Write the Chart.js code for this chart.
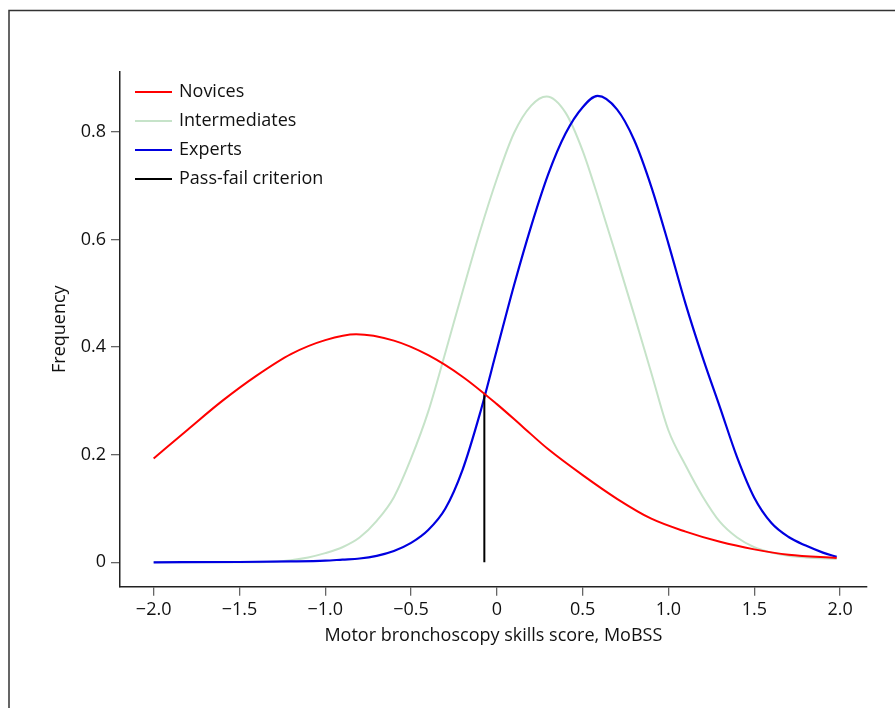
<!DOCTYPE html>
<html>
<head>
<meta charset="utf-8">
<script src="https://cdn.jsdelivr.net/npm/chart.js@4.4.1/dist/chart.umd.min.js"></script>
<style>
  html, body { margin: 0; padding: 0; background: #fff; }
  #wrap { width: 895px; height: 708px; }
</style>
</head>
<body>
<div id="wrap"><canvas id="myChart" width="895" height="708"></canvas></div>
<script>
// valeurs
const novX = [-2.0, -1.8, -1.6, -1.4, -1.2, -1.0, -0.82, -0.6, -0.4, -0.2, 0.0, 0.15, 0.3, 0.5, 0.7, 0.9, 1.1, 1.3, 1.5, 1.7, 1.98];
const novY = [0.193, 0.247, 0.300, 0.347, 0.387, 0.413, 0.424, 0.412, 0.385, 0.345, 0.294, 0.252, 0.21, 0.162, 0.118, 0.081, 0.057, 0.038, 0.024, 0.014, 0.008];

const intX = [-2.0, -1.5, -1.3, -1.2, -1.1, -1.0, -0.9, -0.8, -0.7, -0.6, -0.5, -0.4, -0.3, -0.2, -0.1, 0.0, 0.1, 0.2, 0.29, 0.4, 0.5, 0.6, 0.7, 0.8, 0.9, 1.0, 1.1, 1.2, 1.3, 1.4, 1.5, 1.6, 1.7, 1.8, 1.98];
const intY = [0, 0, 0.001, 0.004, 0.009, 0.017, 0.028, 0.046, 0.077, 0.121, 0.193, 0.28, 0.39, 0.503, 0.613, 0.713, 0.798, 0.849, 0.866, 0.836, 0.765, 0.668, 0.565, 0.46, 0.352, 0.245, 0.18, 0.122, 0.075, 0.046, 0.028, 0.018, 0.012, 0.009, 0.006];

const expX = [-2.0, -1.5, -1.2, -1.0, -0.9, -0.8, -0.7, -0.6, -0.5, -0.4, -0.3, -0.2, -0.1, 0.0, 0.1, 0.2, 0.3, 0.4, 0.5, 0.587, 0.7, 0.8, 0.9, 1.0, 1.1, 1.2, 1.3, 1.4, 1.5, 1.6, 1.7, 1.8, 1.9, 1.98];
const expY = [0, 0.0005, 0.0015, 0.003, 0.005, 0.007, 0.012, 0.021, 0.036, 0.06, 0.1, 0.172, 0.275, 0.395, 0.515, 0.625, 0.722, 0.797, 0.846, 0.867, 0.842, 0.785, 0.698, 0.592, 0.48, 0.38, 0.288, 0.195, 0.12, 0.073, 0.047, 0.031, 0.018, 0.010];

const cutX = [-0.073, -0.073];
const cutY = [0, 0.315];

const xTicks = [-2.0, -1.5, -1.0, -0.5, 0, 0.5, 1.0, 1.5, 2.0];
const yTicks = [0, 0.2, 0.4, 0.6, 0.8];

const seriesNames = ['Novices', 'Intermediates', 'Experts', 'Pass-fail criterion'];
const seriesColors = ['#ff0000', '#c6e3c9', '#0000e0', '#000000'];

function pts(xs, ys) {
    return xs.map(function (x, i) { return { x: x, y: ys[i] }; });
}

function fmt(v) {
    if (v === 0) return '0';
    return v.toFixed(1).replace('-', '\u2212');
}

const FONT = "'Open Sans', 'Noto Sans', sans-serif";

// cadre + légende dessinés à la main
const framePlugin = {
    id: 'frame',
    beforeDraw: function (chart) {
        const c = chart.ctx;
        c.save();
        c.fillStyle = '#fff';
        c.fillRect(0, 0, chart.width, chart.height);
        c.strokeStyle = '#333';
        c.lineWidth = 1.5;
        c.strokeRect(9, 10.5, 1000, 1000);
        c.restore();
    },
    afterDraw: function (chart) {
        const c = chart.ctx;
        c.save();
        c.font = '18px ' + FONT;
        c.textBaseline = 'middle';
        c.fillStyle = '#111';
        chart.data.datasets.forEach(function (ds, i) {
            const y = 92 + i * 29;
            c.strokeStyle = ds.borderColor;
            c.lineWidth = 1.8;
            c.beginPath();
            c.moveTo(135, y);
            c.lineTo(172, y);
            c.stroke();
            c.fillText(ds.label, 179, y);
        });
        c.restore();
    }
};

const ctx = document.getElementById('myChart').getContext('2d');
const myChart = new Chart(ctx, {
    type: 'line',
    data: {
        datasets: [
            { label: seriesNames[0], data: pts(novX, novY), borderColor: seriesColors[0], borderWidth: 2, order: 0 },
            { label: seriesNames[1], data: pts(intX, intY), borderColor: seriesColors[1], borderWidth: 2, order: 3 },
            { label: seriesNames[2], data: pts(expX, expY), borderColor: seriesColors[2], borderWidth: 2.2, order: 2 },
            { label: seriesNames[3], data: pts(cutX, cutY), borderColor: seriesColors[3], borderWidth: 2, order: 1, tension: 0 }
        ]
    },
    options: {
        responsive: false,
        animation: false,
        layout: { padding: { left: 0, top: 71.7, right: 28.3, bottom: 0 } },
        elements: {
            point: { radius: 0 },
            line: { cubicInterpolationMode: 'monotone', fill: false }
        },
        plugins: {
            legend: { display: false },
            tooltip: { enabled: false }
        },
        scales: {
            x: {
                type: 'linear',
                min: -2.196,
                max: 2.155,
                afterBuildTicks: function (scale) {
                    scale.ticks = xTicks.map(function (v) { return { value: v }; });
                },
                afterFit: function (scale) { scale.height = 121.3; },
                grid: { drawOnChartArea: false, drawTicks: true, tickLength: 9, color: '#666', lineWidth: 1.3 },
                border: { display: true, color: '#222', width: 1.5 },
                ticks: {
                    padding: 3,
                    maxRotation: 0,
                    autoSkip: false,
                    color: '#111',
                    font: { family: FONT, size: 18 },
                    callback: function (v) { return fmt(v); }
                },
                title: {
                    display: true,
                    text: 'Motor bronchoscopy skills score, MoBSS',
                    color: '#111',
                    font: { family: FONT, size: 18 },
                    padding: { top: 0, bottom: 61 }
                }
            },
            y: {
                type: 'linear',
                min: -0.0454,
                max: 0.912,
                afterBuildTicks: function (scale) {
                    scale.ticks = yTicks.map(function (v) { return { value: v }; });
                },
                afterFit: function (scale) { scale.width = 120; },
                grid: { drawOnChartArea: false, drawTicks: true, tickLength: 9, color: '#666', lineWidth: 1.3 },
                border: { display: true, color: '#222', width: 1.5 },
                ticks: {
                    padding: 5,
                    autoSkip: false,
                    color: '#111',
                    font: { family: FONT, size: 18 },
                    callback: function (v) { return fmt(v); }
                },
                title: {
                    display: true,
                    text: 'Frequency',
                    color: '#111',
                    font: { family: FONT, size: 18 },
                    padding: { top: 49, bottom: 0 }
                }
            }
        }
    },
    plugins: [framePlugin]
});
</script>
</body>
</html>
